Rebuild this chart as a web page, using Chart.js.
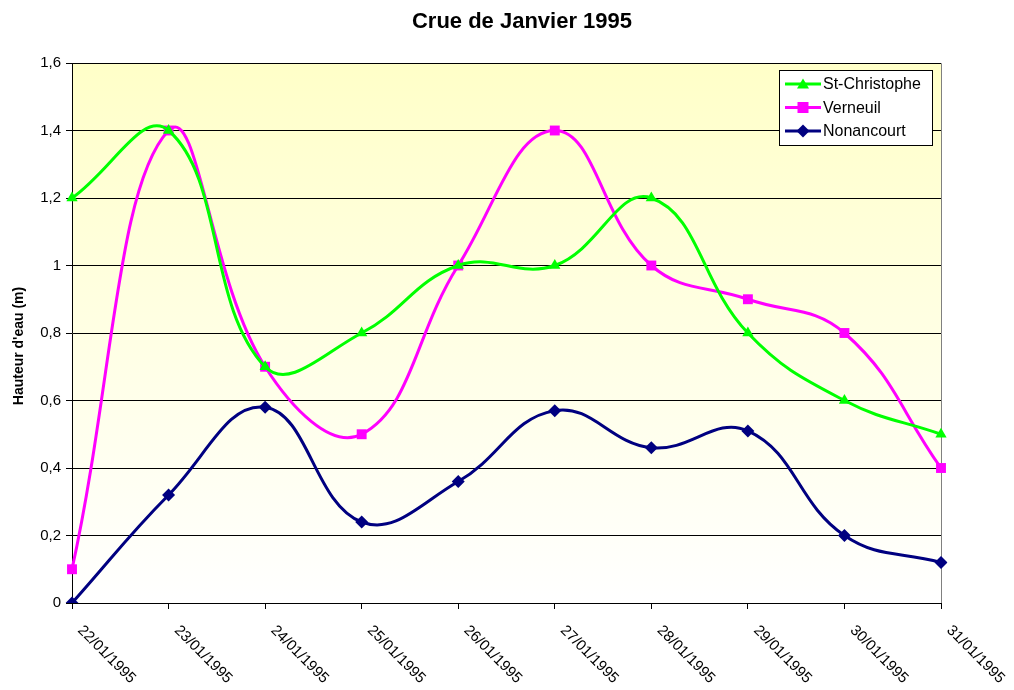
<!DOCTYPE html>
<html>
<head>
<meta charset="utf-8">
<script src="https://cdn.jsdelivr.net/npm/chart.js@4.4.0/dist/chart.umd.min.js"></script>
<style>
  html, body { margin: 0; padding: 0; background: #fff; }
  #wrap { width: 1014px; height: 690px; position: relative; }
</style>
</head>
<body>
<div id="wrap"><canvas id="crue" width="1014" height="690"></canvas></div>
<script>
// donnees
const dates = ["22/01/1995", "23/01/1995", "24/01/1995", "25/01/1995", "26/01/1995",
  "27/01/1995", "28/01/1995", "29/01/1995", "30/01/1995", "31/01/1995"];
const stChristophe = [1.2, 1.4, 0.7, 0.8, 1.0, 1.0, 1.2, 0.8, 0.6, 0.5];
const verneuil = [0.1, 1.4, 0.7, 0.5, 1.0, 1.4, 1.0, 0.9, 0.8, 0.4];
const nonancourt = [0, 0.32, 0.58, 0.24, 0.36, 0.57, 0.46, 0.51, 0.2, 0.12];
const yTicks = [0, 0.2, 0.4, 0.6, 0.8, 1, 1.2, 1.4, 1.6];

const police = "Arial, 'Liberation Sans', sans-serif";

// fond degrade jaune -> blanc dans la zone du graphique
const fondPlugin = {
  id: "fond",
  beforeDraw(chart) {
    const ctx = chart.ctx;
    const a = chart.chartArea;
    const g = ctx.createLinearGradient(0, a.top, 0, a.bottom);
    g.addColorStop(0, "#FFFFC8");
    g.addColorStop(1, "#FFFFFF");
    ctx.save();
    ctx.fillStyle = g;
    ctx.fillRect(a.left, a.top, a.right - a.left, a.bottom - a.top);
    // bord haut et droit gris
    ctx.strokeStyle = "#808080";
    ctx.lineWidth = 1;
    ctx.beginPath();
    ctx.moveTo(a.left, a.top + 0.5);
    ctx.lineTo(a.right + 0.5, a.top + 0.5);
    ctx.lineTo(a.right + 0.5, a.bottom);
    ctx.stroke();
    ctx.restore();
  },
  afterDraw(chart) {
    const ctx = chart.ctx;
    const a = chart.chartArea;
    const xs = chart.scales.x;
    ctx.save();
    // titre
    ctx.fillStyle = "#000";
    ctx.font = "bold 22px " + police;
    ctx.textAlign = "center";
    ctx.textBaseline = "middle";
    ctx.fillText("Crue de Janvier 1995", 522, 22);
    // titre de l'axe vertical
    ctx.save();
    ctx.translate(19, 346);
    ctx.rotate(-Math.PI / 2);
    ctx.font = "bold 14px " + police;
    ctx.fillText("Hauteur d'eau (m)", 0, 0);
    ctx.restore();
    // etiquettes des dates inclinees
    ctx.font = "15px " + police;
    ctx.textAlign = "left";
    ctx.textBaseline = "middle";
    for (let i = 0; i < dates.length; i++) {
      const x = xs.getPixelForTick(i);
      ctx.save();
      ctx.translate(x + 8, a.bottom + 25);
      ctx.rotate(Math.PI / 4);
      ctx.fillText(dates[i], 0, 0);
      ctx.restore();
    }
    // legende
    const lx = 779, ly = 70, lw = 153, lh = 75;
    ctx.fillStyle = "#fff";
    ctx.fillRect(lx, ly, lw, lh);
    ctx.strokeStyle = "#000";
    ctx.lineWidth = 1;
    ctx.strokeRect(lx + 0.5, ly + 0.5, lw, lh);
    const ds = chart.data.datasets;
    for (let k = 0; k < ds.length; k++) {
      const y = ly + 14 + k * 23.5;
      ctx.strokeStyle = ds[k].borderColor;
      ctx.lineWidth = 3;
      ctx.beginPath();
      ctx.moveTo(lx + 6, y);
      ctx.lineTo(lx + 42, y);
      ctx.stroke();
      dessinMarque(ctx, ds[k].pointStyle, lx + 24, y, ds[k].borderColor);
      ctx.fillStyle = "#000";
      ctx.font = "16px " + police;
      ctx.fillText(ds[k].label, lx + 44, y + 1);
    }
    ctx.restore();
  }
};

function dessinMarque(ctx, style, x, y, couleur) {
  ctx.fillStyle = couleur;
  ctx.beginPath();
  if (style === "triangle") {
    ctx.moveTo(x, y - 5.5);
    ctx.lineTo(x + 6, y + 4.5);
    ctx.lineTo(x - 6, y + 4.5);
  } else if (style === "rect") {
    ctx.rect(x - 5.5, y - 5.5, 11, 11);
  } else {
    ctx.moveTo(x, y - 6.5);
    ctx.lineTo(x + 6.5, y);
    ctx.lineTo(x, y + 6.5);
    ctx.lineTo(x - 6.5, y);
  }
  ctx.closePath();
  ctx.fill();
}

const ctx = document.getElementById("crue");
const graphique = new Chart(ctx, {
  type: "line",
  data: {
    labels: dates,
    datasets: [
      {
        label: "St-Christophe",
        data: stChristophe,
        borderColor: "#00FF00",
        backgroundColor: "#00FF00",
        pointStyle: "triangle",
        pointRadius: 6.5,
      },
      {
        label: "Verneuil",
        data: verneuil,
        borderColor: "#FF00FF",
        backgroundColor: "#FF00FF",
        pointStyle: "rect",
        pointRadius: 7,
      },
      {
        label: "Nonancourt",
        data: nonancourt,
        borderColor: "#000080",
        backgroundColor: "#000080",
        pointStyle: "rectRot",
        pointRadius: 6.5,
      },
    ],
  },
  plugins: [fondPlugin],
  options: {
    responsive: false,
    animation: false,
    layout: { padding: { top: 63, right: 73, left: 0, bottom: 0 } },
    elements: {
      line: { borderWidth: 3, tension: 0.42 },
      point: { borderWidth: 0, hoverRadius: 6 },
    },
    plugins: {
      legend: { display: false },
      title: { display: false },
      tooltip: { enabled: false },
    },
    scales: {
      x: {
        offset: false,
        grid: {
          drawOnChartArea: false,
          drawTicks: true,
          tickLength: 6,
          color: "#000",
        },
        border: { color: "#000", width: 1 },
        ticks: { display: false },
        afterFit(scale) { scale.height = 87; },
      },
      y: {
        min: 0,
        max: 1.6,
        afterBuildTicks(scale) {
          scale.ticks = yTicks.map((v) => ({ value: v }));
        },
        grid: {
          color: "#000",
          tickLength: 6,
          drawTicks: true,
        },
        border: { color: "#000", width: 1 },
        ticks: {
          color: "#000",
          font: { family: police, size: 15 },
          padding: 5,
          callback: (v) => String(Math.round(v * 10) / 10).replace(".", ","),
        },
        afterFit(scale) { scale.width = 72; },
      },
    },
  },
});
</script>
</body>
</html>
